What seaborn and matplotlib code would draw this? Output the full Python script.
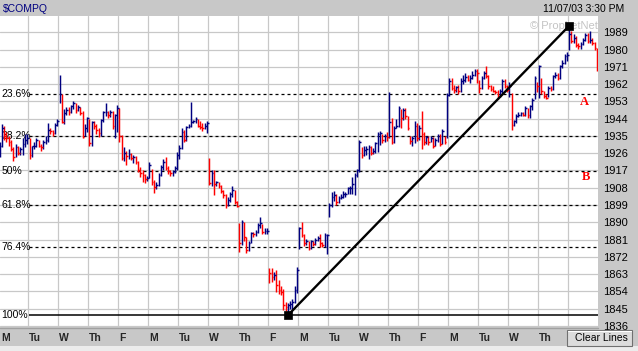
import numpy as np
import pandas as pd
import matplotlib
matplotlib.use("Agg")
import matplotlib.pyplot as plt
from matplotlib.patches import Rectangle
from matplotlib.lines import Line2D
import seaborn as sns

# --- data (30 min bars, 13 per day) ---
day_names = ["M", "Tu", "W", "Th", "F"] * 4
bars_per_day = 13

bar_close = [
    1930, 1939, 1935, 1934, 1932, 1928, 1924, 1929, 1926, 1928, 1931, 1933, 1934,  # M
    1925, 1930, 1930, 1933, 1930, 1929, 1932, 1933, 1938, 1937.5, 1936.5, 1940.7, 1943,  # Tu
    1957, 1942.4, 1947, 1948.5, 1947.6, 1950.6, 1952, 1948.7, 1950, 1947, 1934.6, 1939, 1944.2,  # W
    1931.2, 1942.4, 1940, 1938, 1936.4, 1943.3, 1947.6, 1947.6, 1945.9, 1947.6, 1940.2, 1945.9, 1949.4,  # Th
    1935, 1923.4, 1926, 1924.6, 1925.8, 1923.5, 1924, 1921.6, 1917.3, 1915.6, 1914.7, 1912.4, 1913,  # F
    1919.8, 1911.2, 1908.6, 1909.5, 1914.6, 1919, 1921.6, 1918.3, 1916.6, 1915.7, 1916, 1918.1, 1925,  # M
    1928.6, 1937.2, 1933, 1939.8, 1940, 1942.4, 1943, 1943.7, 1940, 1939.8, 1939, 1940, 1941.6,  # Tu
    1910.3, 1915.5, 1910, 1911, 1909, 1906.5, 1904.2, 1899, 1901.6, 1905, 1906.8, 1900.7, 1898.5,  # W
    1879, 1890.3, 1882.5, 1875.6, 1879.4, 1884.3, 1884, 1885, 1888.6, 1889.4, 1885, 1885.5, 1885.5,  # Th
    1863.4, 1861.6, 1862.5, 1857.3, 1854.7, 1853.9, 1847, 1846, 1847, 1847.5, 1848.7, 1854.7, 1865.2,  # F
    1886.9, 1883.4, 1879, 1880, 1876.5, 1880, 1878.6, 1880.8, 1882, 1879, 1878, 1883.4, 1883.4,  # M
    1899, 1903.4, 1904.3, 1900.8, 1902.6, 1903.4, 1905, 1905, 1907.7, 1907.7, 1910, 1914.7, 1917.3,  # Tu
    1932, 1925, 1927.7, 1928, 1929, 1926, 1927, 1931.2, 1936, 1936.3, 1933, 1935, 1934.7,  # W
    1942.4, 1932, 1939, 1940, 1949.6, 1944.3, 1948.7, 1945.2, 1939, 1932.2, 1934, 1940, 1934,  # Th
    1939, 1936, 1932, 1934.3, 1932, 1934, 1929.6, 1933, 1935, 1931, 1937.4, 1932, 1956.5,  # F
    1963.5, 1960, 1959, 1960.4, 1958.6, 1963.5, 1964.3, 1965.5, 1964.3, 1965, 1966.9, 1968.7, 1967.8,  # M
    1960, 1965.2, 1967.8, 1966.1, 1960.9, 1959.7, 1958.6, 1957.9, 1955.7, 1958.6, 1963.5, 1960.9, 1959,  # Tu
    1960.9, 1940.9, 1942.6, 1945.2, 1946, 1947, 1946, 1949.6, 1946, 1950.4, 1953.9, 1965.2, 1960.9,  # W
    1971.3, 1958.3, 1956, 1955, 1960, 1959.7, 1966, 1967, 1965, 1971.3, 1973, 1976.5, 1977,  # Th
    1988, 1984.3, 1986, 1982.5, 1981.7, 1983, 1985.2, 1987.8, 1984.3, 1985.2, 1983.4, 1980.8, 1970.4,  # F
]
bar_high = [
    1932, 1941, 1940, 1937, 1935, 1933, 1929, 1931, 1930, 1929, 1934, 1936, 1936,
    1934, 1930, 1932, 1934, 1933, 1931, 1933, 1935, 1942, 1939, 1938, 1942, 1944,
    1967, 1957, 1949, 1950, 1950, 1951, 1953, 1952, 1951, 1950, 1948, 1941, 1945,
    1944, 1943, 1943, 1941, 1939, 1944, 1948, 1952.3, 1948, 1948.5, 1948, 1946.5, 1951,
    1949.5, 1935.5, 1929, 1927, 1928, 1926, 1925, 1924.5, 1922, 1919, 1917, 1915, 1914,
    1921.5, 1918, 1912, 1911, 1915.5, 1920, 1923, 1924, 1919.5, 1917.5, 1917, 1919.5, 1926.5,
    1930.5, 1939, 1938, 1940, 1941, 1952.8, 1943.5, 1945, 1944, 1943, 1942, 1941.5, 1943,
    1923.5, 1917.5, 1917, 1911.5, 1911, 1909.5, 1907, 1904.5, 1903, 1906, 1909, 1907, 1901,
    1889.6, 1891, 1890, 1882.5, 1880, 1885, 1885, 1886, 1889.5, 1893, 1889, 1887, 1887,
    1866, 1866, 1864, 1865, 1860, 1857, 1855, 1848.5, 1848, 1849, 1850, 1857, 1866.5,
    1887.7, 1890.3, 1884, 1881.5, 1880.5, 1881, 1880.5, 1882, 1883, 1884, 1879.5, 1884.5, 1884,
    1900, 1906, 1906.5, 1904.5, 1903.5, 1905, 1906.5, 1906, 1908.5, 1909, 1913.5, 1915.5, 1918,
    1933, 1929, 1930, 1929.5, 1930.5, 1929.5, 1928.5, 1932, 1937, 1937.5, 1936, 1936, 1937,
    1958, 1944.5, 1940, 1944, 1950.5, 1949, 1949.5, 1949.8, 1945.5, 1935, 1935, 1943, 1941.5,
    1940.5, 1948, 1937, 1935, 1935, 1935, 1934.5, 1934, 1936, 1936, 1938.5, 1935, 1957.5,
    1965, 1965, 1961.5, 1961, 1961.5, 1965, 1967, 1968, 1967, 1967, 1969, 1970, 1970,
    1964, 1966, 1969, 1971.3, 1967, 1961.5, 1961, 1959, 1959, 1959.5, 1964.5, 1964.5, 1961.5,
    1963, 1957.5, 1943.5, 1946.5, 1947.5, 1947.5, 1947.5, 1950.5, 1949.5, 1951, 1955, 1966, 1963,
    1972.1, 1965, 1958.5, 1957, 1961, 1961, 1967, 1968.5, 1968, 1972, 1974.5, 1977.5, 1979,
    1992.4, 1989.6, 1988, 1987, 1983.5, 1984, 1986, 1988.5, 1988.5, 1989.8, 1986, 1984, 1981,
]
bar_low = [
    1924, 1929, 1933, 1932, 1930, 1927, 1922, 1924, 1925, 1925, 1925, 1929, 1931,
    1923, 1924, 1928, 1929, 1929, 1927, 1928, 1931, 1932, 1936, 1935, 1936, 1940,
    1952, 1941.5, 1941, 1946, 1946, 1947, 1949, 1947, 1948, 1946, 1934, 1935, 1937,
    1929.5, 1930, 1938.5, 1936, 1934.5, 1935, 1942.5, 1945.5, 1944.5, 1945, 1938.5, 1934, 1937,
    1932, 1922.5, 1922, 1920, 1923, 1922.5, 1921, 1920.5, 1916, 1913.5, 1911, 1910.5, 1911.5,
    1913, 1909.5, 1905.5, 1907.5, 1909, 1914, 1917.5, 1917.5, 1915, 1914, 1914, 1915.5, 1917,
    1923, 1928, 1932, 1932.5, 1939, 1939.5, 1941.5, 1942, 1939.5, 1938.5, 1937.5, 1938.5, 1936.5,
    1909.6, 1909, 1904, 1909, 1908, 1905.5, 1902.5, 1897.5, 1898.5, 1900.5, 1903, 1899.5, 1898,
    1874.3, 1878, 1880, 1874, 1875, 1879, 1882.5, 1883, 1884.5, 1887, 1884, 1884, 1884,
    1858.5, 1859, 1860, 1853.5, 1852.5, 1852, 1844.5, 1844, 1841.5, 1845, 1845, 1848, 1853,
    1876, 1882.5, 1877.5, 1878, 1875.5, 1876, 1877.5, 1878, 1880, 1877, 1877, 1877, 1873.5,
    1892.7, 1898, 1901, 1899, 1900, 1902, 1902.5, 1903, 1905, 1905, 1905, 1904, 1913.5,
    1916.4, 1923.6, 1924.5, 1925, 1923, 1925, 1925.5, 1926, 1926.5, 1930.5, 1931.5, 1932, 1932.5,
    1933.8, 1931, 1931.5, 1939, 1939.5, 1939, 1943.5, 1944, 1938, 1931, 1929.5, 1931.5, 1932.5,
    1933, 1928, 1930.5, 1931, 1930.5, 1932, 1928.5, 1929.5, 1932, 1930, 1931, 1931, 1934,
    1956, 1959, 1957.5, 1958, 1957, 1958, 1962, 1963, 1963.5, 1962.5, 1964.5, 1966, 1962.5,
    1957.5, 1959.5, 1964.5, 1965, 1959.5, 1958.5, 1958, 1957, 1954, 1955.5, 1957.5, 1960, 1958,
    1955.5, 1938.3, 1940, 1942, 1945, 1945.5, 1945.5, 1945.5, 1944.5, 1944.5, 1948.5, 1954, 1958,
    1954.8, 1957, 1955, 1954, 1955.5, 1958.5, 1959, 1965, 1964, 1964.5, 1970.5, 1972.5, 1974,
    1980, 1983.4, 1983.5, 1981.5, 1980.5, 1980.5, 1982.5, 1984.5, 1983.5, 1983.5, 1982.5, 1980, 1968.7,
]

price_ticks = list(range(1989, 1835, -9))
swing_low, swing_high = 1841.5, 1992.4
swing_low_bar, swing_high_bar = 125, 247
fib_ratios = [0.236, 0.382, 0.5, 0.618, 0.764, 1.0]
fib_labels = ["23.6%", "38.2%", "50%", "61.8%", "76.4%", "100%"]

NAVY = "#000080"
RED = "#ff0000"
GRID = "#c8c8c8"
PANEL = "#c8c8c8"

df = pd.DataFrame({"high": bar_high, "low": bar_low, "close": bar_close})
df["bar"] = np.arange(len(df))
prev = df["close"].shift(1).fillna(df["close"].iloc[0])
df["color"] = np.where(df["close"] >= prev, NAVY, RED)

sns.set_theme(style="white")
plt.rcParams["font.family"] = ["Liberation Sans", "DejaVu Sans"]

W, H = 638, 351
fig = plt.figure(figsize=(W / 100, H / 100), dpi=100, facecolor=PANEL)
ax = fig.add_axes([0, 24.5 / H, 598 / W, 310.5 / H])
ax.set_facecolor("white")
ax.set_xlim(0.2, 259.5)
ax.set_ylim(1835.7, 1997.5)
for s in ax.spines.values():
    s.set_visible(False)

# grid
for p in price_ticks:
    ax.axhline(p, color=GRID, lw=0.9, zorder=0)
n_days = len(day_names)
for d in range(1, n_days):
    ax.axvline(d * bars_per_day - 0.5, color=GRID, lw=0.9, zorder=0)

# right price axis
ax.yaxis.tick_right()
ax.set_yticks(price_ticks)
ax.set_yticklabels([str(p) for p in price_ticks])
ax.tick_params(axis="y", length=0, pad=3.5, labelsize=8, labelcolor="black")
ax.set_xticks([])

# day labels along the bottom band (last one sits behind the button)
btn_left = 567
for d, name in enumerate(day_names):
    x0 = max(d * bars_per_day - 0.5, 0.3)
    t = ax.text(x0 + 0.3, -0.037, name, transform=ax.get_xaxis_transform(),
                ha="left", va="center", fontsize=7.5, fontweight="bold", clip_on=False)
    if d == n_days - 1:
        t.set_text("|")

# fibonacci retracement lines
ytrans = ax.get_yaxis_transform()
for r, lab in zip(fib_ratios, fib_labels):
    level = swing_high - r * (swing_high - swing_low)
    if r == 1.0:
        ax.hlines(level, 0.049, 1, transform=ytrans, color="black", lw=1.1, zorder=1)
    else:
        ax.hlines(level, 0.049, 1, transform=ytrans, color="black", lw=0.9,
                  linestyles=(0, (2.4, 2.4)), zorder=1)
    ax.text(0.002, level, lab, transform=ytrans, ha="left", va="center",
            fontsize=7.5, color="black", zorder=1)

# watermark
ax.text(0.886, 0.968, "\u00a9 ProphetNet", transform=ax.transAxes, ha="left", va="center",
        fontsize=8, color="#c4c4c4", zorder=2)

# price bars
ax.vlines(df["bar"], df["low"], df["high"], colors=df["color"], lw=1.05, zorder=3)
ax.hlines(df["close"], df["bar"], df["bar"] + 0.75, colors=df["color"], lw=1.05, zorder=3)

# trend line between swing points
sns.lineplot(x=[swing_low_bar, swing_high_bar], y=[swing_low, swing_high],
             color="black", lw=1.7, ax=ax, zorder=4)
sns.scatterplot(x=[swing_low_bar, swing_high_bar], y=[swing_low, swing_high],
                marker="s", s=38, color="black", edgecolor="black", ax=ax, zorder=5)
ax.set_xlabel("")
ax.set_ylabel("")

# annotation letters
ax.text(253.7, 1952.7, "A", ha="center", va="center", color=RED, fontsize=9,
        fontweight="bold", family=["Liberation Serif", "DejaVu Serif"], zorder=5)
ax.text(254.5, 1913.4, "B", ha="center", va="center", color=RED, fontsize=9,
        fontweight="bold", family=["Liberation Serif", "DejaVu Serif"], zorder=5)

# header
fig.text(3 / W, 1 - 8.5 / H, "$COMPQ", color=NAVY, fontsize=7.5, ha="left", va="center")
fig.text(624 / W, 1 - 8.5 / H, "11/07/03 3:30 PM", color="black", fontsize=7.5,
         ha="right", va="center")

# bottom band border and lower strip
fig.add_artist(Line2D([0, 598 / W], [1 - 327.5 / H] * 2, color="#a0a0a0", lw=1))
fig.add_artist(Rectangle((0, 0), 1, 5 / H, transform=fig.transFigure,
                         facecolor="#ececec", edgecolor="none"))

# "Clear Lines" button
bx0, by0, bx1, by1 = btn_left, 330, 632, 346
fig.add_artist(Rectangle((bx0 / W, 1 - by1 / H), (bx1 - bx0) / W, (by1 - by0) / H,
                         transform=fig.transFigure, facecolor="#dcdcdc",
                         edgecolor="#707070", lw=0.8))
fig.add_artist(Line2D([bx0 / W + 0.002, bx1 / W - 0.002], [1 - (by0 + 1) / H] * 2,
                      color="white", lw=0.8))
fig.text((bx0 + bx1) / 2 / W + 0.003, 1 - 338 / H, "Clear Lines", fontsize=7.5,
         ha="center", va="center", color="black")

fig.savefig("out.png", dpi=100, facecolor=fig.get_facecolor())
